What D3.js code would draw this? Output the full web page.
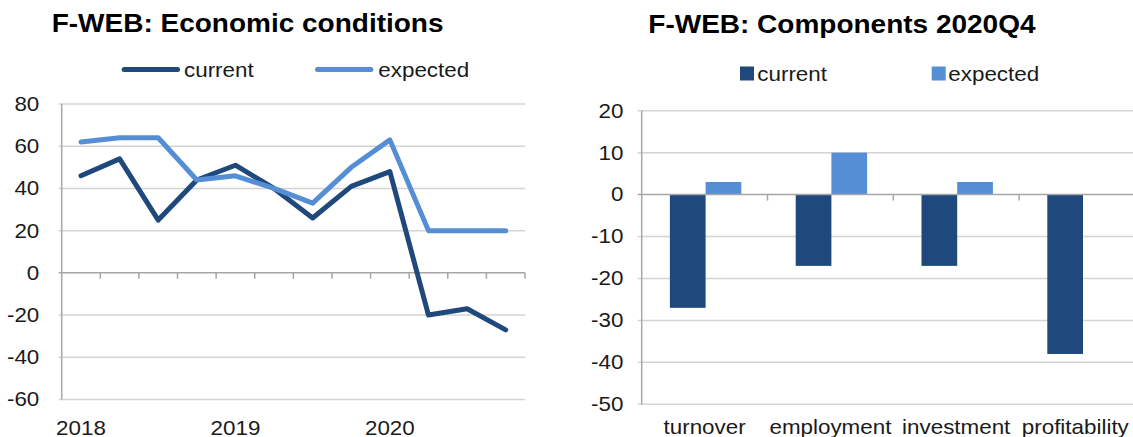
<!DOCTYPE html>
<html>
<head>
<meta charset="utf-8">
<script src="https://cdn.jsdelivr.net/npm/d3@7/dist/d3.min.js"></script>
<style>
  html, body { margin: 0; padding: 0; background: #fff; }
  svg { display: block; font-family: "Liberation Sans", Arial, sans-serif; }
</style>
</head>
<body>
<svg id="chart" width="1133" height="437"></svg>
<script>
// ---------- data ----------
const quarters = ["2018Q1","2018Q2","2018Q3","2018Q4","2019Q1","2019Q2","2019Q3","2019Q4","2020Q1","2020Q2","2020Q3","2020Q4"];
const currentSeries  = [46, 54, 25, 44, 51, 40, 26, 41, 48, -20, -17, -27];
const expectedSeries = [62, 64, 64, 44, 46, 40, 33, 50, 63, 20, 20, 20];
const yearTicks = ["2018Q1","2019Q1","2020Q1"];
const leftYTicks = [-60, -40, -20, 0, 20, 40, 60, 80];

const components = ["turnover","employment","investment","profitability"];
const compCurrent  = [-27, -17, -17, -38];
const compExpected = [3, 10, 3, 0];
const rightYTicks = [-50, -40, -30, -20, -10, 0, 10, 20];

const seriesNames = ["current","expected"];
// ---------- style ----------
const DARK = "#1F497D", LIGHT = "#558ED5";
const GRID = "#d4d4d4", AXIS = "#a6a6a6", TXT = "#1a1a1a";
const SX = 1.12; // horizontal text stretch seen in the reference
const fmt = d => String(d); // plain hyphen-minus as in the reference

const svg = d3.select("#chart");
svg.append("rect").attr("width", 1133).attr("height", 437).attr("fill", "#fff");

function stretch(sel) { sel.attr("transform", `scale(${SX},1)`); }
function label(g, x, y, txt, size, weight, anchor) {
  return g.append("text")
    .attr("transform", `translate(${x},${y}) scale(${SX},1)`)
    .attr("text-anchor", anchor || "start")
    .attr("font-size", size).attr("font-weight", weight || "normal")
    .attr("fill", weight === "bold" ? "#000" : TXT)
    .text(txt);
}

// ================= LEFT CHART =================
{
  const g = svg.append("g");
  const x0 = 61.7, x1 = 525, yTop = 104, yBot = 399.5;
  const x = d3.scaleBand().domain(quarters).range([x0, x1]).padding(0);
  const y = d3.scaleLinear().domain([-60, 80]).range([yBot, yTop]);

  g.append("g").selectAll("line").data(leftYTicks.filter(d => d !== 0)).join("line")
    .attr("x1", x0 - 3).attr("x2", x1)
    .attr("y1", d => y(d)).attr("y2", d => y(d))
    .attr("stroke", GRID).attr("stroke-width", 1.5);

  const ya = g.append("g").attr("transform", `translate(${x0},0)`)
    .call(d3.axisLeft(y).tickValues(leftYTicks).tickSize(0).tickPadding(20).tickFormat(fmt));
  ya.select(".domain").remove();
  ya.selectAll("text").attr("font-size", 20).attr("fill", TXT).attr("font-family", null).call(stretch);

  g.append("line").attr("x1", x0 - 3).attr("x2", x1).attr("y1", y(0)).attr("y2", y(0))
    .attr("stroke", AXIS).attr("stroke-width", 1.5);
  g.append("g").selectAll("line").data(quarters).join("line")
    .attr("x1", d => x(d) + x.bandwidth()).attr("x2", d => x(d) + x.bandwidth())
    .attr("y1", y(0)).attr("y2", y(0) + 6)
    .attr("stroke", AXIS).attr("stroke-width", 1.5);
  g.append("line").attr("x1", x0).attr("x2", x0).attr("y1", yTop).attr("y2", yBot)
    .attr("stroke", AXIS).attr("stroke-width", 1.5);

  const xa = g.append("g").attr("transform", `translate(0,${yBot})`)
    .call(d3.axisBottom(x).tickValues(yearTicks).tickSize(0).tickPadding(21).tickFormat(d => d.slice(0, 4)));
  xa.select(".domain").remove();
  xa.selectAll("text").attr("font-size", 20).attr("fill", TXT).attr("font-family", null).call(stretch);

  const line = d3.line().x((d, i) => x(quarters[i]) + x.bandwidth() / 2).y(d => y(d));
  [[currentSeries, DARK], [expectedSeries, LIGHT]].forEach(([data, col]) => {
    g.append("path").datum(data).attr("d", line)
      .attr("fill", "none").attr("stroke", col).attr("stroke-width", 5)
      .attr("stroke-linejoin", "round").attr("stroke-linecap", "round");
  });

  label(g, 51.7, 32, "F-WEB: Economic conditions", 25, "bold");
  const lg = g.append("g");
  [[121.7, 180, 184, DARK, seriesNames[0]], [315, 373.3, 378.3, LIGHT, seriesNames[1]]].forEach(([a, b, t, col, name]) => {
    lg.append("line").attr("x1", a + 2.5).attr("x2", b - 2.5).attr("y1", 69.5).attr("y2", 69.5)
      .attr("stroke", col).attr("stroke-width", 5).attr("stroke-linecap", "round");
    label(lg, t, 76.5, name, 20);
  });
}

// ================= RIGHT CHART =================
{
  const g = svg.append("g");
  const x0 = 641.7, step = 125.8, yTop = 110.7, yBot = 404.3;
  const x = d3.scaleBand().domain(components).range([x0, x0 + step * components.length]).padding(0);
  const y = d3.scaleLinear().domain([-50, 20]).range([yBot, yTop]);
  const bw = 35.7;

  g.append("g").selectAll("line").data(rightYTicks.filter(d => d !== 0)).join("line")
    .attr("x1", x0 - 4).attr("x2", 1133)
    .attr("y1", d => y(d)).attr("y2", d => y(d))
    .attr("stroke", GRID).attr("stroke-width", 1.5);

  const ya = g.append("g").attr("transform", `translate(${x0},0)`)
    .call(d3.axisLeft(y).tickValues(rightYTicks).tickSize(0).tickPadding(16.4).tickFormat(fmt));
  ya.select(".domain").remove();
  ya.selectAll("text").attr("font-size", 20).attr("fill", TXT).attr("font-family", null).call(stretch);

  const cx = d => x(d) + x.bandwidth() / 2 + 1;
  g.append("g").selectAll("rect").data(components).join("rect")
    .attr("x", d => cx(d) - bw)
    .attr("y", (d, i) => y(Math.max(0, compCurrent[i])))
    .attr("width", bw)
    .attr("height", (d, i) => Math.abs(y(compCurrent[i]) - y(0)))
    .attr("fill", DARK);
  g.append("g").selectAll("rect").data(components).join("rect")
    .attr("x", d => cx(d))
    .attr("y", (d, i) => y(Math.max(0, compExpected[i])))
    .attr("width", bw)
    .attr("height", (d, i) => Math.abs(y(compExpected[i]) - y(0)))
    .attr("fill", LIGHT);

  g.append("line").attr("x1", x0 - 4).attr("x2", 1133).attr("y1", y(0)).attr("y2", y(0))
    .attr("stroke", AXIS).attr("stroke-width", 1.5);
  g.append("g").selectAll("line").data(components).join("line")
    .attr("x1", d => x(d) + x.bandwidth()).attr("x2", d => x(d) + x.bandwidth())
    .attr("y1", y(0)).attr("y2", y(0) + 6)
    .attr("stroke", AXIS).attr("stroke-width", 1.5);
  g.append("line").attr("x1", x0).attr("x2", x0).attr("y1", yTop).attr("y2", yBot)
    .attr("stroke", AXIS).attr("stroke-width", 1.5);

  const xa = g.append("g").attr("transform", `translate(0,${yBot})`)
    .call(d3.axisBottom(x).tickSize(0).tickPadding(15.5));
  xa.select(".domain").remove();
  xa.selectAll("text").attr("font-size", 20).attr("fill", TXT).attr("font-family", null).call(stretch);
  // keep category labels inside the picture (as the reference does)
  const maxRight = 1129;
  xa.selectAll(".tick").each(function(d) {
    const t = d3.select(this).select("text");
    const w = this.querySelector("text").getBBox().width * SX;
    const tx = x(d) + x.bandwidth() / 2;
    const over = tx + w / 2 - maxRight;
    if (over > 0) t.attr("x", -over / SX);
  });

  label(g, 648.3, 33, "F-WEB: Components 2020Q4", 25, "bold");
  const lg = g.append("g");
  [[740, 757.3, DARK, seriesNames[0]], [931.7, 948.3, LIGHT, seriesNames[1]]].forEach(([sx, tx, col, name]) => {
    lg.append("rect").attr("x", sx).attr("y", 66.5).attr("width", 14).attr("height", 14).attr("fill", col);
    label(lg, tx, 80.5, name, 20);
  });
}
</script>
</body>
</html>
